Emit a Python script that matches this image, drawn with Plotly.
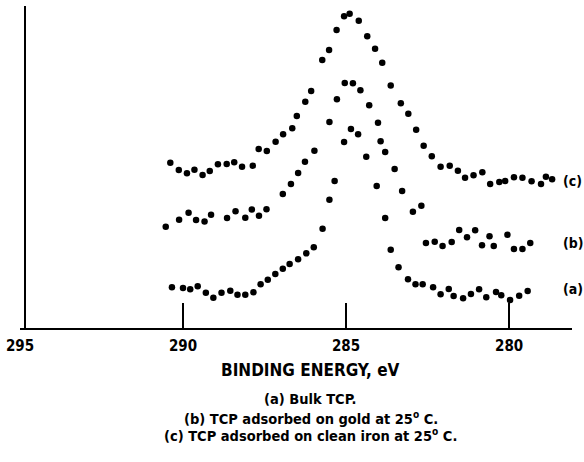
import plotly.graph_objects as go

# Binding energy (eV) and intensity (arbitrary units)
energy_a = [290.34, 290.00, 289.78, 289.55, 289.30, 289.07, 288.82, 288.55, 288.33, 288.09,
            287.84, 287.62, 287.40, 287.17, 286.94, 286.73, 286.47, 286.22, 285.99, 285.72,
            285.51, 285.35, 285.06, 284.85, 284.63, 284.38, 284.06, 283.80, 283.63, 283.39,
            283.10, 282.87, 282.65, 282.33, 282.10, 281.85, 281.70, 281.41, 281.17, 280.92,
            280.70, 280.40, 280.24, 279.97, 279.69, 279.43]
counts_a = [40.7, 40.0, 38.7, 41.7, 35.3, 30.3, 35.3, 37.3, 33.3, 33.3,
            35.7, 43.7, 48.3, 54.0, 59.3, 64.0, 68.7, 74.7, 80.7, 99.3,
            128.3, 147.0, 186.0, 199.0, 193.7, 171.3, 142.0, 110.0, 78.3, 60.7,
            48.7, 43.7, 43.7, 40.7, 33.7, 39.0, 32.0, 29.7, 34.0, 38.7,
            30.7, 36.0, 32.7, 28.0, 32.3, 37.0]

energy_b = [290.53, 290.12, 289.83, 289.60, 289.34, 289.14, 288.65, 288.39, 288.09, 287.89,
            287.67, 287.44, 286.94, 286.69, 286.47, 286.26, 285.97, 285.51, 285.28, 285.04,
            284.79, 284.56, 284.29, 284.02, 283.94, 283.80, 283.51, 283.28, 282.95, 282.69,
            282.55, 282.28, 282.04, 281.76, 281.53, 281.29, 281.04, 280.83, 280.60, 280.47,
            280.05, 279.85, 279.59, 279.35]
counts_b = [101.3, 108.3, 115.3, 108.0, 106.5, 113.3, 110.0, 116.7, 110.3, 118.5,
            112.3, 118.7, 134.0, 144.0, 155.0, 166.3, 177.3, 206.0, 228.7, 245.0,
            244.7, 237.7, 222.7, 205.3, 186.7, 176.0, 159.0, 137.0, 116.3, 122.3,
            85.0, 86.3, 82.0, 86.0, 98.0, 90.7, 97.7, 82.7, 91.7, 82.0,
            93.3, 79.0, 79.0, 85.0]

energy_c = [290.39, 290.13, 289.88, 289.65, 289.40, 289.18, 288.93, 288.66, 288.43, 288.19,
            287.86, 287.68, 287.43, 287.16, 286.93, 286.65, 286.51, 286.25, 286.07, 285.73,
            285.52, 285.29, 285.06, 284.89, 284.61, 284.35, 284.11, 283.89, 283.63, 283.32,
            283.09, 282.85, 282.62, 282.37, 282.10, 281.82, 281.57, 281.35, 281.09, 280.82,
            280.58, 280.30, 280.12, 279.85, 279.59, 279.31, 279.02, 278.87, 278.68]
counts_c = [165.3, 158.0, 154.7, 158.3, 153.0, 157.0, 163.7, 164.0, 165.7, 161.3,
            162.3, 179.0, 177.0, 186.3, 193.7, 199.7, 212.0, 226.3, 237.0, 268.0,
            278.0, 298.0, 311.7, 314.3, 307.3, 291.7, 279.2, 265.2, 242.5, 224.7,
            214.3, 198.2, 182.3, 171.7, 161.3, 162.2, 157.3, 150.3, 152.7, 155.7,
            144.0, 146.0, 147.0, 150.7, 150.3, 146.7, 144.0, 151.3, 148.7]

curve_labels = ["(a)", "(b)", "(c)"]
curve_label_levels = [39, 85, 147]

tick_values = [295, 290, 285, 280]
tick_labels = ["295", "290", "285", "280"]

axis_title = "BINDING ENERGY, eV"
captions = ["(a) Bulk TCP.",
            "(b) TCP adsorbed on gold at 25<sup>o</sup> C.",
            "(c) TCP adsorbed on clean iron at 25<sup>o</sup> C."]

FONT = "Liberation Sans Narrow, DejaVu Sans Condensed, Arial Narrow, sans-serif"

fig = go.Figure()
for e, c in [(energy_a, counts_a), (energy_b, counts_b), (energy_c, counts_c)]:
    fig.add_trace(go.Scatter(x=e, y=c, mode="markers",
                             marker=dict(color="black", size=6.5, line=dict(width=0)),
                             showlegend=False, cliponaxis=False))

W, H = 584, 462
L, R, T, B = 18, 12, 6, 134
plot_h = H - T - B

fig.update_layout(
    width=W, height=H,
    margin=dict(l=L, r=R, t=T, b=B),
    paper_bgcolor="white", plot_bgcolor="white",
    font=dict(family=FONT, size=14, color="black", weight="bold"),
    xaxis=dict(range=[295, 278.07], showgrid=False, zeroline=False,
               showline=True, linecolor="black", linewidth=2,
               ticks="inside", ticklen=25, tickwidth=2, tickcolor="black",
               tickvals=tick_values, ticktext=tick_labels,
               ticklabelstandoff=3,
               tickfont=dict(family=FONT, size=15, color="black", weight="bold")),
    yaxis=dict(range=[0, plot_h], showgrid=False, zeroline=False,
               showline=True, linecolor="black", linewidth=2,
               showticklabels=False, ticks="",
               anchor="free", position=(22.7 - L) / (W - L - R)),
)

for lab, lev in zip(curve_labels, curve_label_levels):
    fig.add_annotation(x=(561 - L) / (W - L - R), xref="paper", y=lev, yref="y",
                       text=lab, showarrow=False, xanchor="left", yanchor="middle",
                       font=dict(family=FONT, size=14, color="black", weight="bold"))

def ypix(p):
    return -(p - (T + plot_h)) / plot_h

cx = (310 - L) / (W - L - R)
fig.add_annotation(x=cx, xref="paper", y=ypix(370), yref="paper", text=axis_title,
                   showarrow=False, xanchor="center", yanchor="middle",
                   font=dict(family=FONT, size=17, color="black", weight="bold"))
for cap, p in zip(captions, [399, 418, 435]):
    fig.add_annotation(x=cx, xref="paper", y=ypix(p), yref="paper", text=cap,
                       showarrow=False, xanchor="center", yanchor="middle",
                       font=dict(family=FONT, size=14.5, color="black", weight="bold"))

fig.write_html("out.html")
